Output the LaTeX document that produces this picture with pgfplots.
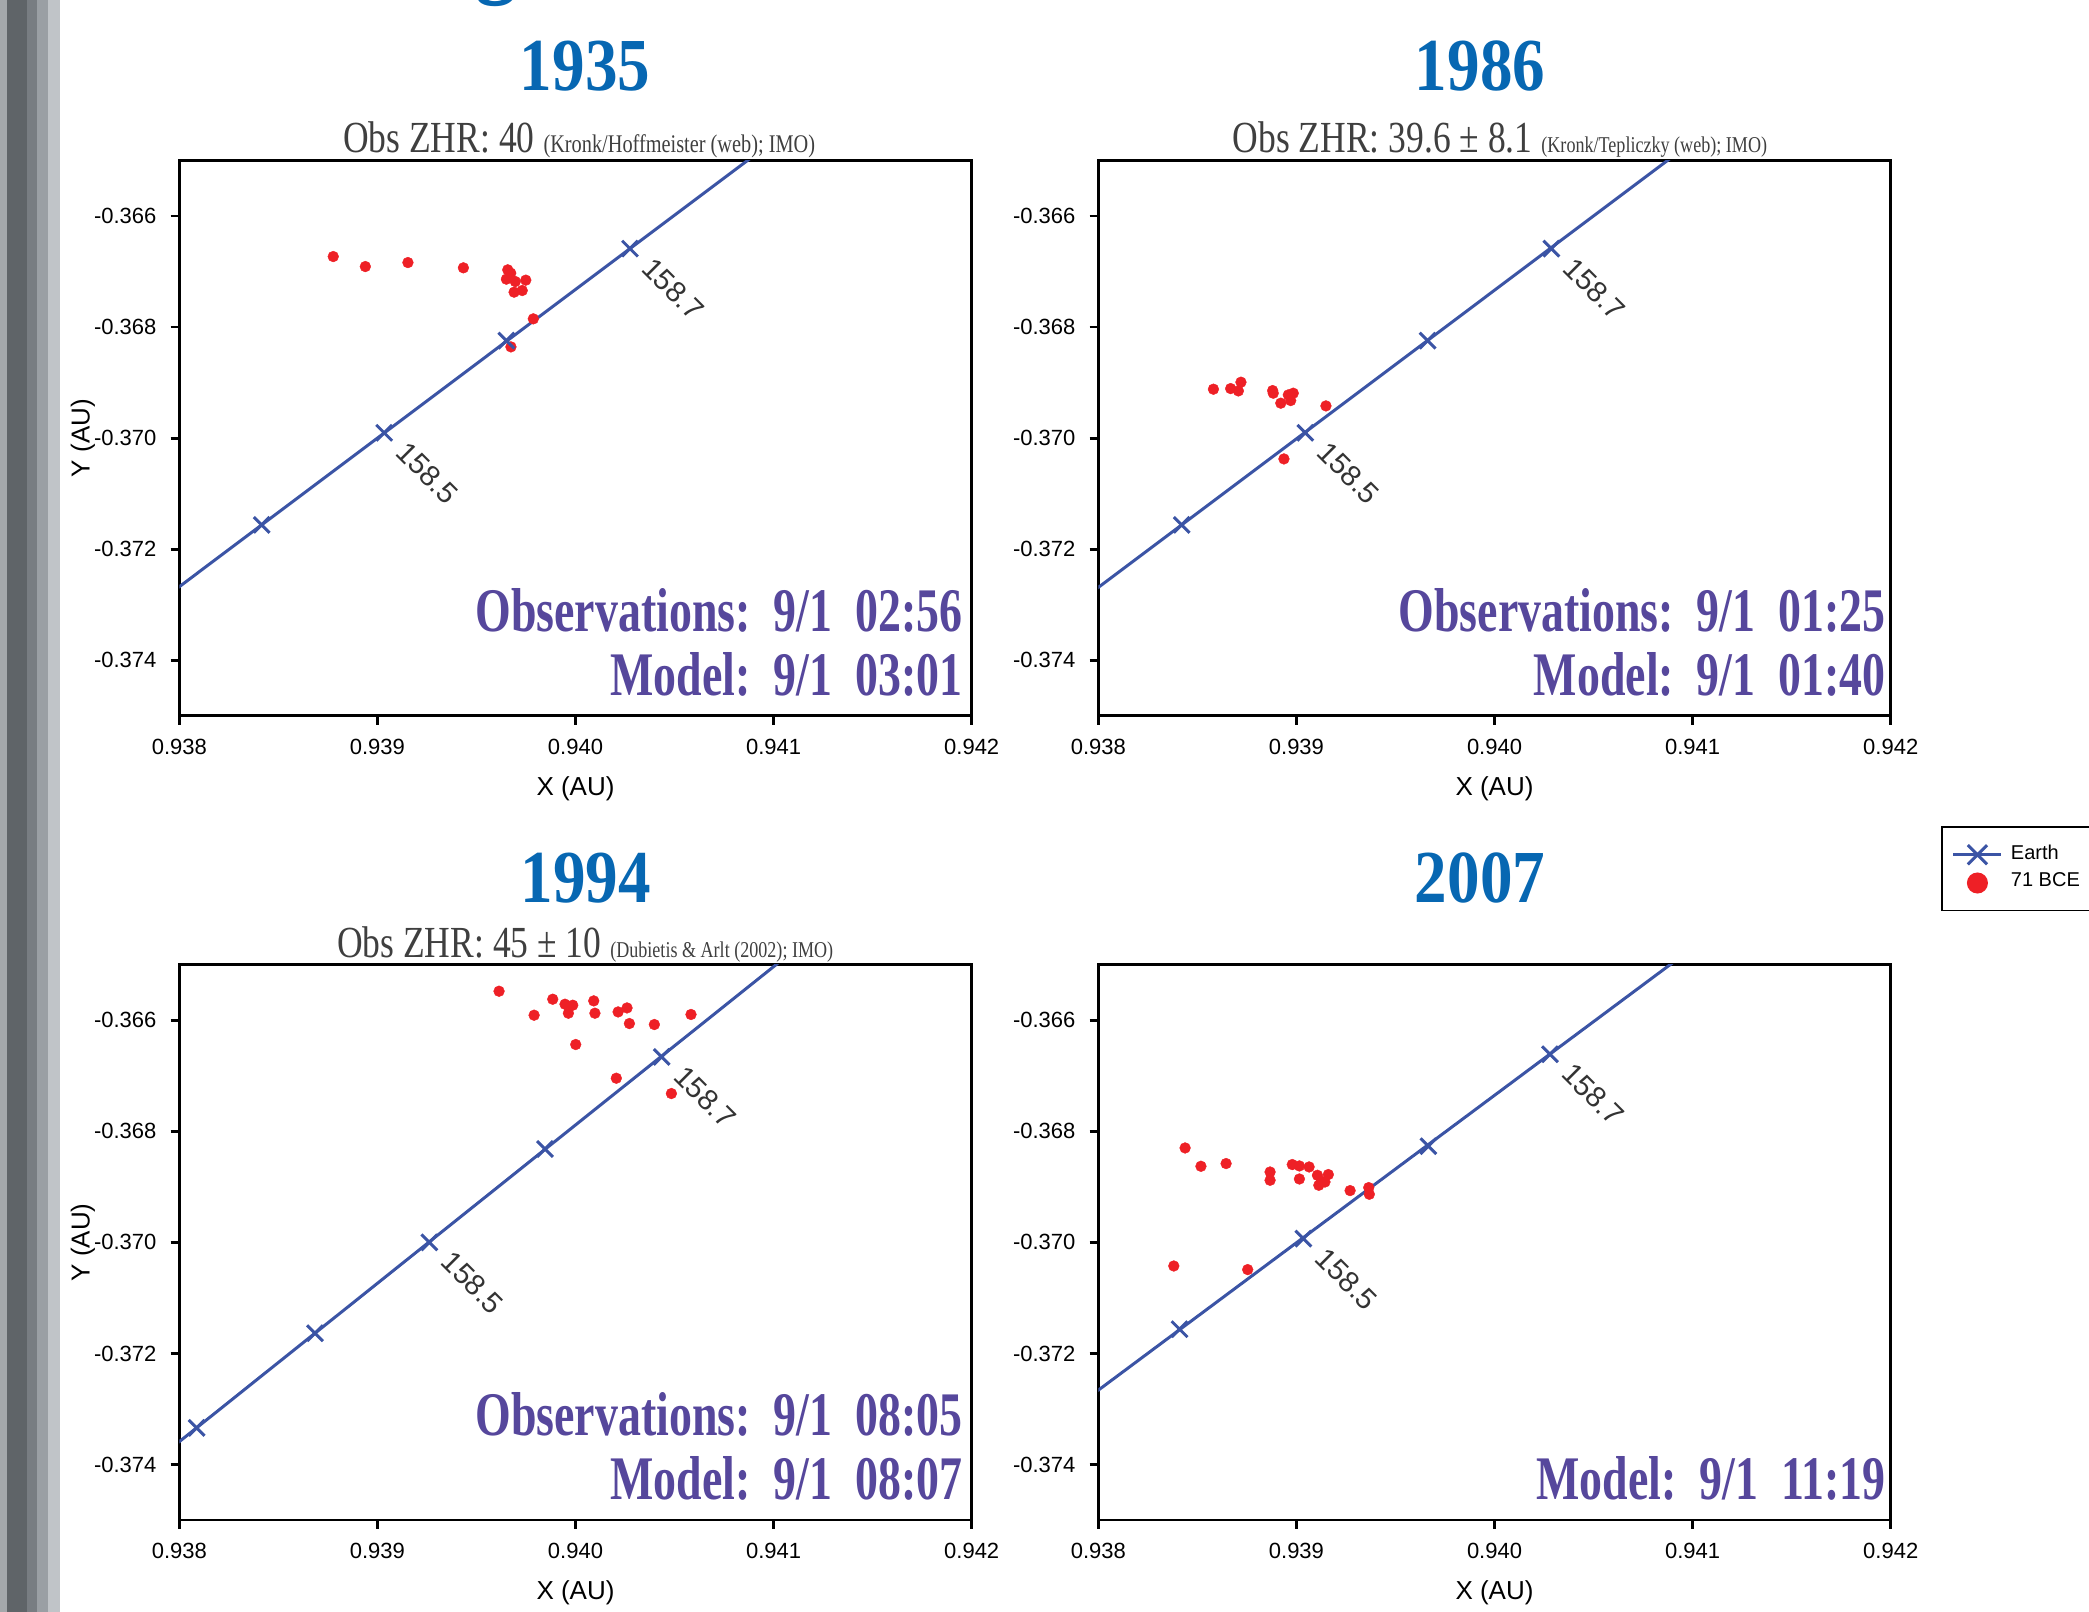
\documentclass[border=0pt]{standalone}
\usepackage{pgfplots}
\pgfplotsset{compat=1.18}
\usepackage{fontspec}
\setmainfont{Liberation Sans}
\newfontfamily\titlefont[FakeStretch=0.87]{Liberation Serif}
\newfontfamily\subfont[FakeStretch=0.80]{Liberation Serif}
\newfontfamily\annfont[FakeStretch=0.74]{Liberation Serif}
\definecolor{titleblue}{HTML}{0767B2}
\definecolor{annpurple}{HTML}{56479C}
\definecolor{earthblue}{HTML}{3B54A5}
\definecolor{dotred}{HTML}{EE2026}
\definecolor{subgray}{HTML}{3F3F3F}
\definecolor{sA}{HTML}{A4A8AB}
\definecolor{sB}{HTML}{5F6468}
\definecolor{sC}{HTML}{787D82}
\definecolor{sD}{HTML}{9A9FA4}
\definecolor{sE}{HTML}{C0C4C8}
\pgfplotsset{
  mypanel/.style={
    scale only axis, width=198.1pt, height=138.8pt,
    xmin=0.938, xmax=0.942, ymin=-0.375, ymax=-0.365,
    xtick={0.938,0.939,0.940,0.941,0.942},
    xticklabels={0.938,0.939,0.940,0.941,0.942},
    ytick={-0.374,-0.372,-0.370,-0.368,-0.366},
    yticklabels={-0.374,-0.372,-0.370,-0.368,-0.366},
    tick align=outside, xtick pos=bottom, ytick pos=left,
    major tick length=2.2pt,
    axis line style={line width=0.7pt},
    every tick/.style={black, line width=0.7pt},
    scaled ticks=false,
    tick label style={font=\fontsize{5.5}{6}\selectfont},
    xlabel={X (AU)},
    every axis x label/.style={at={([yshift=-18.3pt]axis description cs:0.5,0)}, anchor=center, font=\fontsize{6.5}{7}\selectfont},
    every axis y label/.style={at={([xshift=-24.1pt]axis description cs:0,0.5)}, anchor=center, rotate=90, font=\fontsize{6.5}{7}\selectfont},
    clip=true,
  },
  earthline/.style={earthblue, line width=0.75pt, no marks},
  earthmarks/.style={earthblue, only marks, mark=x, mark size=2.8pt, mark options={line width=0.75pt}},
  mydots/.style={dotred, only marks, mark=*, mark size=1.35pt, mark options={draw=dotred, fill=dotred, line width=0.1pt}},
  earthlegend/.style={earthblue, line width=0.75pt, mark=x, mark size=3.4pt,
    legend image code/.code={\draw[mark repeat=2,mark phase=2,##1] plot coordinates {(0pt,0pt) (6pt,0pt) (12pt,0pt)};}},
  dotlegend/.style={dotred, only marks, mark=*, mark size=2.4pt, mark options={fill=dotred, draw=dotred},
    legend image code/.code={\draw[##1] plot coordinates {(6pt,0pt)};}},
}
\newcommand{\lab}[3]{\node[rotate=-45, anchor=north west, inner sep=0pt, text=black!80, font=\fontsize{7.3}{8}\selectfont] at ([xshift=6.2pt,yshift=-1.5pt]axis cs:#1,#2) {#3};}
\tikzset{
  ttl/.style={anchor=base, inner sep=0pt, text=titleblue, font=\titlefont\bfseries\fontsize{18.7}{20}\selectfont},
  sub/.style={anchor=base west, inner sep=0pt, text=subgray, font=\subfont\fontsize{11.1}{12}\selectfont},
  ann/.style={anchor=base east, inner sep=0pt, text=annpurple, font=\annfont\bfseries\fontsize{15.5}{16}\selectfont},
}
\newcommand{\srcsize}{\fontsize{6.35}{7}\selectfont}
\newcommand{\srcsmall}{\fontsize{5.65}{6}\selectfont}
\begin{document}
\begin{tikzpicture}
\useasboundingbox (0pt,0pt) rectangle (522.25pt,-403pt);
% slide edge decoration
\fill[sA] (0pt,0pt) rectangle (1.7pt,-403pt);
\fill[sB] (1.7pt,0pt) rectangle (6.7pt,-403pt);
\fill[sC] (6.7pt,0pt) rectangle (9.2pt,-403pt);
\fill[sD] (9.2pt,0pt) rectangle (12.05pt,-403pt);
\fill[sE] (12.05pt,0pt) rectangle (15.1pt,-403pt);
\node[anchor=base, inner sep=0pt, text=titleblue, font=\titlefont\bfseries\fontsize{24}{24}\selectfont] at (124pt,3.6pt) {g};

% ---------- 1935 ----------
\begin{axis}[mypanel, at={(44.83pt,-178.93pt)}, anchor=south west, ylabel={Y (AU)}]
\addplot[earthline] coordinates {(0.9379,-0.372944) (0.9410,-0.364646)};
\addplot[mydots] coordinates {
(0.938777,-0.366730) (0.938939,-0.366910) (0.939154,-0.366838) (0.939434,-0.366933)
(0.939658,-0.366969) (0.939673,-0.367029) (0.939651,-0.367137) (0.939696,-0.367180)
(0.939749,-0.367155) (0.939690,-0.367371) (0.939731,-0.367342) (0.939787,-0.367852)
(0.939674,-0.368357)};
\addplot[earthmarks] coordinates {(0.938416,-0.371563) (0.939034,-0.369904) (0.939651,-0.368245) (0.940275,-0.366587)};
\lab{0.939034}{-0.369904}{158.5}
\lab{0.940275}{-0.366587}{158.7}
\end{axis}

% ---------- 1986 ----------
\begin{axis}[mypanel, at={(274.58pt,-178.93pt)}, anchor=south west,
  legend style={at={(1.0635,-0.1987)}, anchor=north west, draw=black, line width=0.45pt, fill=white,
    font=\fontsize{5}{6}\selectfont, inner xsep=2.5pt, inner ysep=3.4pt, row sep=0pt, column sep=1pt,
    cells={anchor=west}, nodes={inner sep=1pt}}]
\addlegendimage{earthlegend}
\addlegendimage{dotlegend}
\addplot[earthline] coordinates {(0.9379,-0.372957) (0.9410,-0.364660)};
\addplot[mydots] coordinates {
(0.938581,-0.369119) (0.938668,-0.369108) (0.938720,-0.368993) (0.938707,-0.369150)
(0.938880,-0.369144) (0.938883,-0.369191) (0.938921,-0.369371) (0.938959,-0.369222)
(0.938984,-0.369191) (0.938971,-0.369324) (0.939149,-0.369420) (0.938937,-0.370375)};
\addplot[earthmarks] coordinates {(0.938421,-0.371563) (0.939045,-0.369904) (0.939662,-0.368245) (0.940287,-0.366587)};
\lab{0.939045}{-0.369904}{158.5}
\lab{0.940287}{-0.366587}{158.7}
\legend{Earth,71 BCE}
\end{axis}

% ---------- 1994 ----------
\begin{axis}[mypanel, at={(44.83pt,-380pt)}, anchor=south west, ylabel={Y (AU)}]
\addplot[earthline] coordinates {(0.9379,-0.373874) (0.9412,-0.364463)};
\addplot[mydots] coordinates {
(0.939614,-0.365476) (0.939885,-0.365620) (0.939947,-0.365710) (0.939986,-0.365728)
(0.940092,-0.365650) (0.939791,-0.365908) (0.939964,-0.365872) (0.940098,-0.365872)
(0.940215,-0.365849) (0.940260,-0.365777) (0.940272,-0.366058) (0.940398,-0.366076)
(0.940583,-0.365895) (0.940001,-0.366436) (0.940206,-0.367043) (0.940484,-0.367319)};
\addplot[earthmarks] coordinates {(0.938087,-0.373341) (0.938685,-0.371635) (0.939262,-0.370000) (0.939846,-0.368317) (0.940435,-0.366659)};
\lab{0.939262}{-0.370000}{158.5}
\lab{0.940435}{-0.366659}{158.7}
\end{axis}

% ---------- 2007 ----------
\begin{axis}[mypanel, at={(274.58pt,-380pt)}, anchor=south west]
\addplot[earthline] coordinates {(0.9379,-0.372927) (0.9410,-0.364696)};
\addplot[mydots] coordinates {
(0.938438,-0.368299) (0.938518,-0.368629) (0.938645,-0.368580) (0.938867,-0.368732)
(0.938867,-0.368881) (0.938979,-0.368598) (0.939015,-0.368623) (0.939064,-0.368641)
(0.939015,-0.368858) (0.939106,-0.368791) (0.939161,-0.368778) (0.939126,-0.368899)
(0.939144,-0.368912) (0.939113,-0.368971) (0.939271,-0.369067) (0.939365,-0.369013)
(0.939368,-0.369133) (0.938381,-0.370425) (0.938754,-0.370490)};
\addplot[earthmarks] coordinates {(0.938410,-0.371563) (0.939035,-0.369932) (0.939666,-0.368268) (0.940280,-0.366611)};
\lab{0.939035}{-0.369932}{158.5}
\lab{0.940280}{-0.366611}{158.7}
\end{axis}

% titles
\node[ttl] at (146.25pt,-22.65pt) {1935};
\node[ttl] at (370pt,-22.65pt) {1986};
\node[ttl] at (146.4pt,-225.6pt) {1994};
\node[ttl] at (370pt,-225.6pt) {2007};
% subtitles
\node[sub] at (85.6pt,-38.25pt) {Obs ZHR: 40 {\srcsize(Kronk/Hoffmeister (web); IMO)}};
\node[sub] at (308pt,-38.25pt) {Obs ZHR: 39.6 ± 8.1 {\srcsmall(Kronk/Tepliczky (web); IMO)}};
\node[sub] at (84.1pt,-239.4pt) {Obs ZHR: 45 ± 10 {\srcsmall(Dubietis \& Arlt (2002); IMO)}};
% annotations
\node[ann] at (240.75pt,-157.9pt) {Observations:\ \ 9/1\ \ 02:56};
\node[ann] at (240.75pt,-173.9pt) {Model:\ \ 9/1\ \ 03:01};
\node[ann] at (471.6pt,-157.9pt) {Observations:\ \ 9/1\ \ 01:25};
\node[ann] at (471.6pt,-173.9pt) {Model:\ \ 9/1\ \ 01:40};
\node[ann] at (240.75pt,-359pt) {Observations:\ \ 9/1\ \ 08:05};
\node[ann] at (240.75pt,-374.9pt) {Model:\ \ 9/1\ \ 08:07};
\node[ann] at (471.6pt,-374.9pt) {Model:\ \ 9/1\ \ 11:19};
\end{tikzpicture}
\end{document}
